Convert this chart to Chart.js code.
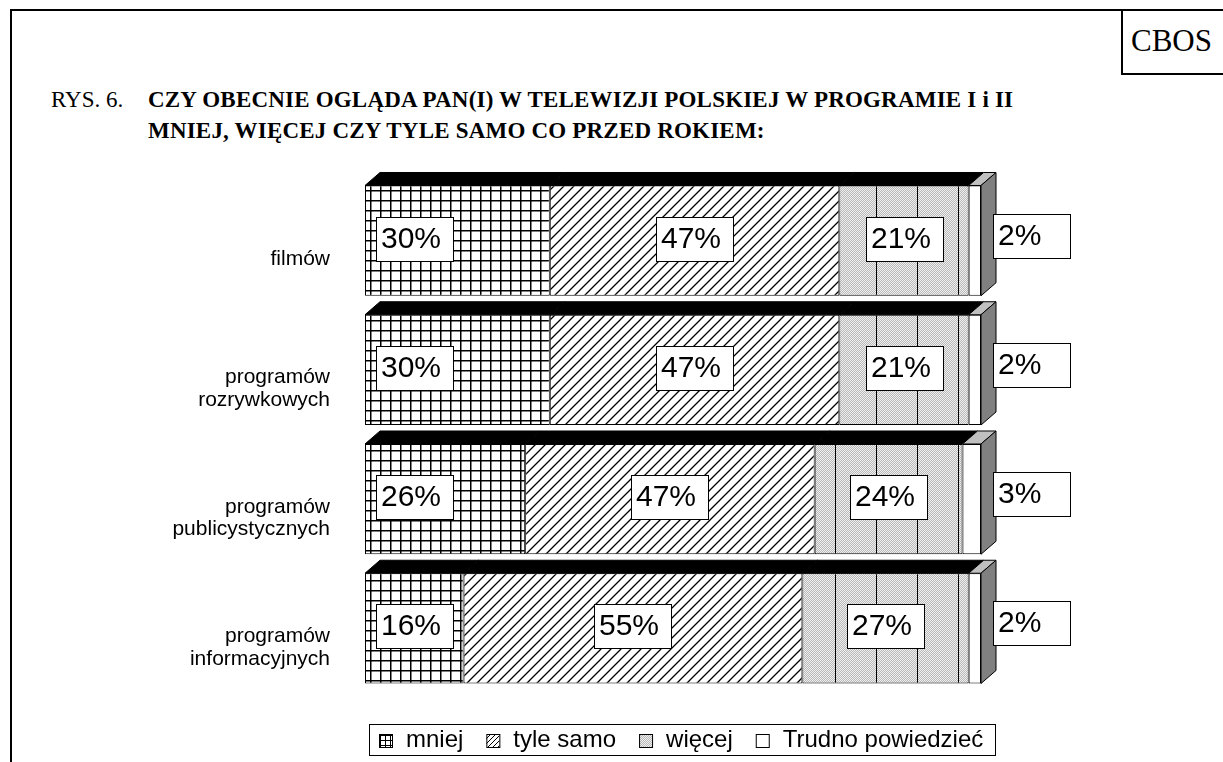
<!DOCTYPE html>
<html>
<head>
<meta charset="utf-8">
<script src="https://cdn.jsdelivr.net/npm/chart.js@4.4.0/dist/chart.umd.min.js"></script>
<style>
  html, body { margin: 0; padding: 0; background: #fff; overflow: hidden; width: 1223px; height: 762px; }
  .line { position: absolute; background: #000; }
  #cbos { position: absolute; left: 1121px; top: 10px; width: 120px; height: 65px;
          border-left: 2px solid #000; border-bottom: 2px solid #000;
          font: 31px "Liberation Serif", serif; line-height: 62px; padding-left: 8px; box-sizing: border-box; }
  .title { position: absolute; font-family: "Liberation Serif", serif; font-size: 23px; line-height: 26px; white-space: nowrap; }
  .title b { font-weight: bold; letter-spacing: 0.2px; }
  #chartBox { position: absolute; left: 0; top: 0; }
</style>
</head>
<body>
<div class="line" style="left:10px;top:9px;width:1213px;height:2px"></div>
<div class="line" style="left:10px;top:9px;width:2px;height:753px"></div>
<div id="cbos">CBOS</div>
<div class="title" style="left:51px;top:87px">RYS. 6.</div>
<div class="title" style="left:148px;top:87px"><b>CZY OBECNIE OGLĄDA PAN(I) W TELEWIZJI POLSKIEJ W PROGRAMIE I i II</b></div>
<div class="title" style="left:148px;top:118px"><b>MNIEJ, WIĘCEJ CZY TYLE SAMO CO PRZED ROKIEM:</b></div>
<div id="chartBox"><canvas id="chart" width="1223" height="762"></canvas></div>
<script>
const categories = ['filmów', ['programów', 'rozrywkowych'], ['programów', 'publicystycznych'], ['programów', 'informacyjnych']];
const seriesNames = ['mniej', 'tyle samo', 'więcej', 'Trudno powiedzieć'];
const mniej = [30, 30, 26, 16];
const tyleSamo = [47, 47, 47, 55];
const wiecej = [21, 21, 24, 27];
const trudno = [2, 2, 3, 2];

// fill patterns
function makeTile(w, h, draw) {
  const c = document.createElement('canvas');
  c.width = w; c.height = h;
  draw(c.getContext('2d'));
  return c.getContext('2d').createPattern(c, 'repeat');
}
function gridTile(s, lw) {
  return makeTile(s, s, g => {
    g.fillStyle = '#fff'; g.fillRect(0, 0, s, s);
    g.fillStyle = '#000'; g.fillRect(0, 0, s, lw); g.fillRect(0, 0, lw, s);
  });
}
function hatchTile(s, lw) {
  return makeTile(s, s, g => {
    g.fillStyle = '#fff'; g.fillRect(0, 0, s, s);
    g.strokeStyle = '#000'; g.lineWidth = lw;
    g.beginPath();
    g.moveTo(-1, s + 1); g.lineTo(s + 1, -1);
    g.moveTo(-1, 1); g.lineTo(1, -1);
    g.moveTo(s - 1, s + 1); g.lineTo(s + 1, s - 1);
    g.stroke();
  });
}
function dotTile(w, lines) {
  return makeTile(w, 2, g => {
    for (let x = 0; x < w; x++) for (let y = 0; y < 2; y++) {
      g.fillStyle = (x + y) % 2 ? '#b8b8b8' : '#f0f0f0';
      g.fillRect(x, y, 1, 1);
    }
    g.fillStyle = '#000';
    lines.forEach(x => g.fillRect(x, 0, 1, 2));
  });
}
const gridFill = gridTile(10, 1.5);
const hatchFill = hatchTile(10, 1.3);
const dotFill = dotTile(82, [15, 56]);
const legendFills = [gridTile(5, 1), hatchTile(5, 1), dotTile(2, []), '#fff'];

const DX = 15, DY = 13;
const FONT = '"Liberation Sans", Arial, sans-serif';

const bar3d = {
  id: 'bar3d',
  afterDatasetsDraw(chart) {
    const ctx = chart.ctx;
    const n = chart.data.datasets.length;
    ctx.save();
    ctx.lineWidth = 1;
    ctx.strokeStyle = '#000';
    chart.data.labels.forEach((_, i) => {
      for (let d = 0; d < n; d++) {
        const b = chart.getDatasetMeta(d).data[i];
        const top = b.y - b.height / 2;
        const x0 = b.base, x1 = b.x;
        ctx.beginPath();
        ctx.moveTo(x0, top); ctx.lineTo(x1, top);
        ctx.lineTo(x1 + DX, top - DY); ctx.lineTo(x0 + DX, top - DY);
        ctx.closePath();
        ctx.fillStyle = d === n - 1 ? '#c0c0c0' : '#000';
        ctx.fill(); ctx.stroke();
        if (d === n - 1) {
          const bot = b.y + b.height / 2;
          ctx.beginPath();
          ctx.moveTo(x1, top); ctx.lineTo(x1 + DX, top - DY);
          ctx.lineTo(x1 + DX, bot - DY); ctx.lineTo(x1, bot);
          ctx.closePath();
          ctx.fillStyle = '#808080';
          ctx.fill(); ctx.stroke();
        }
      }
    });
    ctx.restore();
  }
};

const boxLabels = {
  id: 'boxLabels',
  afterDatasetsDraw(chart) {
    const ctx = chart.ctx;
    const n = chart.data.datasets.length;
    const bw = 77, bh = 44;
    ctx.save();
    ctx.font = '30px ' + FONT;
    ctx.textBaseline = 'middle';
    ctx.textAlign = 'left';
    chart.data.labels.forEach((_, i) => {
      for (let d = 0; d < n; d++) {
        const b = chart.getDatasetMeta(d).data[i];
        const v = chart.data.datasets[d].data[i];
        let bx, cy = b.y - 2;
        if (d === 0) bx = b.base + 11;
        else if (d === n - 1) { bx = b.x + DX - 3; cy = b.y - 5; }
        else bx = (b.base + b.x) / 2 - bw / 2;
        bx = Math.round(bx);
        const by = Math.round(cy - bh / 2);
        ctx.fillStyle = '#fff';
        ctx.fillRect(bx, by, bw, bh);
        ctx.strokeStyle = '#000'; ctx.lineWidth = 1;
        ctx.strokeRect(bx + 0.5, by + 0.5, bw, bh);
        ctx.fillStyle = '#000';
        ctx.fillText(v + '%', bx + 5, by + bh / 2 + 1);
      }
    });
    ctx.restore();
  }
};

// legend drawn in one framed row under the plot
const legendRow = {
  id: 'legendRow',
  afterDraw(chart) {
    const ctx = chart.ctx;
    const sets = chart.data.datasets;
    const sym = 13, gapText = 14, gapItem = 23, pad = 10;
    ctx.save();
    ctx.font = '24px ' + FONT;
    const widths = sets.map(s => ctx.measureText(s.label).width);
    const total = widths.reduce((a, w) => a + sym + gapText + w, 0) + gapItem * (sets.length - 1);
    const boxW = Math.round(total + pad * 2 + 2);
    const left = Math.round(chart.chartArea.left + chart.chartArea.width / 2 + 9 - boxW / 2);
    const top = 724, h = 31, cy = top + h / 2 + 1;
    ctx.strokeStyle = '#000'; ctx.lineWidth = 1;
    ctx.strokeRect(left + 0.5, top + 0.5, boxW, h);
    let x = left + pad;
    ctx.textBaseline = 'middle';
    sets.forEach((s, k) => {
      const sy = Math.round(cy - sym / 2);
      ctx.fillStyle = legendFills[k];
      ctx.fillRect(x, sy, sym, sym);
      ctx.strokeRect(x + 0.5, sy + 0.5, sym, sym);
      ctx.fillStyle = '#000';
      ctx.fillText(s.label, x + sym + gapText, cy);
      x += sym + gapText + widths[k] + gapItem;
    });
    ctx.restore();
  }
};

const fills = [gridFill, hatchFill, dotFill, '#fff'];
const values = [mniej, tyleSamo, wiecej, trudno];

new Chart(document.getElementById('chart'), {
  type: 'bar',
  data: {
    labels: categories,
    datasets: seriesNames.map((name, k) => ({
      label: name,
      data: values[k],
      backgroundColor: fills[k],
      borderColor: '#000',
      borderWidth: 1,
      borderSkipped: false,
      barPercentage: 0.853,
      categoryPercentage: 1
    }))
  },
  options: {
    indexAxis: 'y',
    responsive: false,
    animation: false,
    layout: { padding: { top: 176, right: 242, left: 0, bottom: 0 } },
    scales: {
      x: {
        stacked: true, min: 0, max: 100,
        ticks: { display: false },
        grid: { display: false, drawTicks: false },
        border: { display: false },
        afterFit(s) { s.height = 69; }
      },
      y: {
        stacked: true,
        grid: { display: false, drawTicks: false },
        border: { display: false },
        ticks: { padding: 35, labelOffset: 19, color: '#000', font: { family: FONT, size: 21, lineHeight: 1.08 } },
        afterFit(s) { s.width = 365; }
      }
    },
    plugins: {
      legend: { display: false },
      tooltip: { enabled: false }
    }
  },
  plugins: [bar3d, boxLabels, legendRow]
});
</script>
</body>
</html>
